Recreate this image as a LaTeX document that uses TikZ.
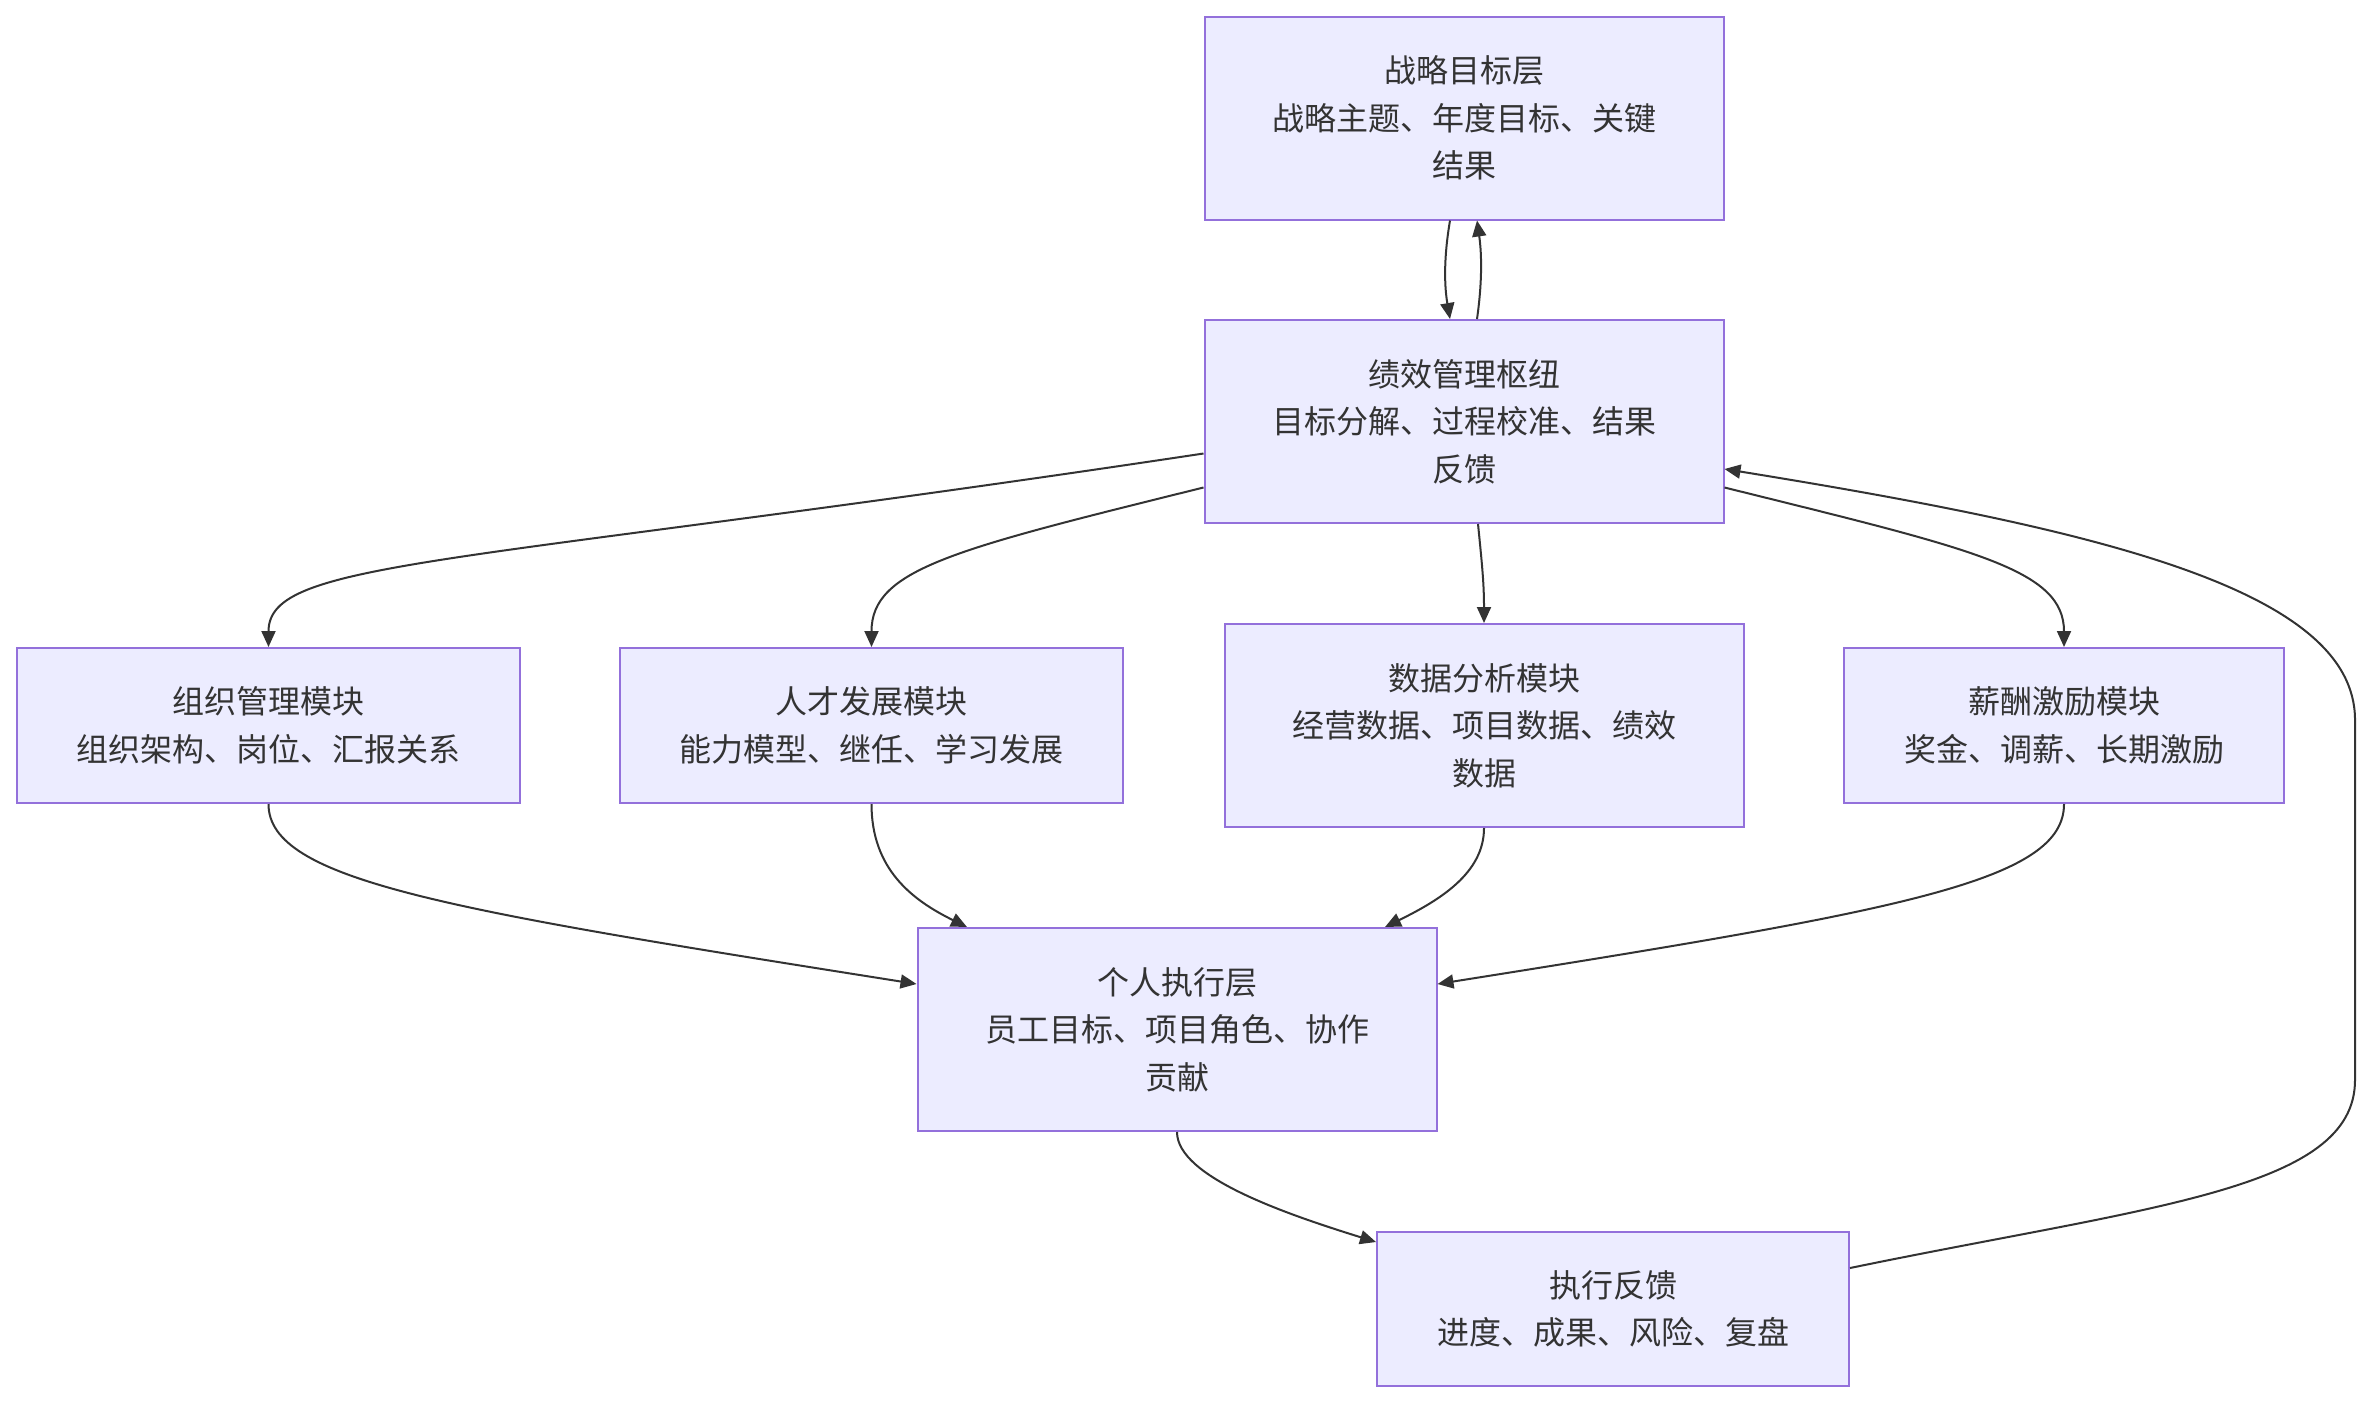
\documentclass[tikz,border=0pt]{standalone}
\usepackage{fontspec}
\setmainfont{Noto Sans CJK SC}
\usetikzlibrary{arrows.meta}
\definecolor{boxfill}{HTML}{ECECFF}
\definecolor{boxline}{HTML}{9370DB}
\definecolor{ink}{HTML}{333333}
\tikzset{
  box/.style={draw=boxline, fill=boxfill, line width=1pt, inner sep=0pt,
    align=center, text=ink, font=\fontsize{16pt}{23.8pt}\selectfont},
  tall/.style={box, minimum width=259.5pt, minimum height=101.5pt},
  flat/.style={box, minimum height=77.5pt},
  link/.style={draw=ink, line width=1pt, -{Triangle[length=8pt,width=7pt]}}
}
\begin{document}
\begin{tikzpicture}[x=0.5pt, y=-0.5pt]
\useasboundingbox (0,0) rectangle (2370,1404);
\node[tall] (n1) at (1464,118) {战略目标层\\战略主题、年度目标、关键\\结果};
\node[tall] (n2) at (1464,421.5) {绩效管理枢纽\\目标分解、过程校准、结果\\反馈};
\node[flat, minimum width=251.5pt] (n3) at (268.5,725.5) {组织管理模块\\组织架构、岗位、汇报关系};
\node[flat, minimum width=251.5pt] (n4) at (871.5,725.5) {人才发展模块\\能力模型、继任、学习发展};
\node[tall] (n5) at (1484,725.5) {数据分析模块\\经营数据、项目数据、绩效\\数据};
\node[flat, minimum width=220pt] (n6) at (2064,725.5) {薪酬激励模块\\奖金、调薪、长期激励};
\node[tall] (n7) at (1177,1029.5) {个人执行层\\员工目标、项目角色、协作\\贡献};
\node[flat, minimum width=236pt, minimum height=77pt] (n8) at (1613,1309) {执行反馈\\进度、成果、风险、复盘};
\coordinate (r1) at (2355,1080);
\coordinate (r2) at (2355,720);
% strategy <-> hub
\draw[link] ([xshift=-7pt]n1.south) .. controls +(-6,35) and +(-6,-35) .. ([xshift=-7pt]n2.north);
\draw[link] ([xshift=6.5pt]n2.north) .. controls +(5,-35) and +(5,35) .. ([xshift=6.5pt]n1.south);
% hub -> modules
\draw[link] ([yshift=-16pt]n2.west) .. controls +(-750,113) and +(0,-88) .. (n3.north);
\draw[link] ([yshift=-33pt]n2.west) .. controls +(-250,62) and +(0,-78) .. (n4.north);
\draw[link] ([xshift=7pt]n2.south) .. controls +(4,40) and +(0,-40) .. (n5.north);
\draw[link] ([yshift=-33pt]n2.east) .. controls +(250,62) and +(0,-78) .. (n6.north);
% modules -> individual
\draw[link] (n3.south) .. controls +(0,77) and +(-467,-74) .. ([yshift=22.75pt]n7.west);
\draw[link] (n4.south) .. controls +(0,65) and +(-55,-27) .. ([xshift=-105pt]n7.north);
\draw[link] (n5.south) .. controls +(0,45) and +(55,-27) .. ([xshift=104pt]n7.north);
\draw[link] (n6.south) .. controls +(0,77) and +(467,-74) .. ([yshift=22.75pt]n7.east);
% individual -> feedback
\draw[link] (n7.south) .. controls +(0,45) and +(-90,-28) .. ([yshift=33.5pt]n8.west);
% feedback -> hub
\draw[link] ([yshift=20.5pt]n8.east) .. controls +(300,-62) and +(0,110) .. (r1)
  -- (r2) .. controls +(0,-130) and +(377,61) .. ([yshift=-23.75pt]n2.east);
\end{tikzpicture}
\end{document}
